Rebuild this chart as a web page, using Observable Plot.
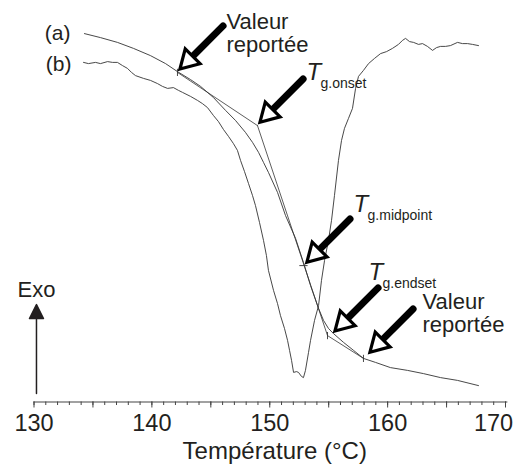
<!DOCTYPE html>
<html><head><meta charset="utf-8">
<script src="https://cdn.jsdelivr.net/npm/d3@7"></script>
<script src="https://cdn.jsdelivr.net/npm/@observablehq/plot@0.6"></script>
<style>body{margin:0;background:#fff}</style>
</head><body><div id="chart"></div>
<script>
// Temperature (°C) and heat flow (arbitrary units, exo up)
const curveA_T = [134.28,135.64,137.08,138.44,139.88,141.16,142.17,143.28,144.13,145.23,146.25,147.09,147.94,148.54,149.05,149.47,149.89,150.66,151.34,152.19,152.86,153.46,154.14,154.56,154.98,155.41,156.26,157.11,157.95,158.97,160.24,161.69,163.04,164.49,165.93,167.71];
const curveA_H = [92.1,91.1,89.9,88.4,86.6,84.6,82.6,80.6,78.9,76.1,72.9,70.4,67.4,64.9,62.4,59.9,57.4,52.4,46.6,40.9,34.9,29.1,23.4,20.4,18.4,17.1,14.9,12.9,10.9,9.9,8.6,7.9,7.1,6.1,5.4,4.1];

const curveB_T = [134.20,134.62,135.22,135.64,136.24,136.66,137.08,137.51,137.93,138.27,138.61,139.29,139.88,140.48,140.90,141.33,141.83,142.26,142.60,143.28,143.87,144.29,144.72,145.23,145.65,146.08,146.50,146.92,147.26,147.52,147.86,148.20,148.54,148.79,149.13,149.47,149.72,149.89,150.32,150.66,150.91,151.25,151.51,151.68,151.85,152.02,152.27,152.44,152.69,152.86,153.03,153.29,153.46,153.80,154.14,154.39,154.65,154.98,155.24,155.49,155.83,156.09,156.34,156.68,157.02,157.28,157.53,157.95,158.38,158.89,159.40,159.91,160.41,160.92,161.26,161.52,161.86,162.20,162.62,162.96,163.38,163.81,164.15,164.49,164.91,165.33,165.93,166.35,166.78,167.20,167.71];
const curveB_H = [84.9,84.6,84.9,84.6,85.1,84.9,84.9,84.1,83.4,82.4,81.6,80.9,80.4,79.6,78.9,78.4,78.6,77.9,77.4,76.4,75.4,74.6,73.6,71.6,70.1,68.1,66.4,64.6,62.9,60.4,57.6,54.6,51.6,49.1,44.9,40.4,36.6,32.9,27.9,24.6,21.6,18.4,15.4,12.9,10.4,7.4,7.6,7.4,6.4,6.1,7.9,12.4,15.4,20.4,24.1,30.4,35.4,40.4,45.4,51.6,60.4,65.4,68.4,70.9,73.4,78.4,81.4,82.9,84.6,85.9,87.1,87.6,88.4,89.4,90.4,90.9,90.1,89.9,89.4,89.6,88.9,87.9,88.6,88.9,88.9,89.1,89.9,89.6,89.6,89.4,89.1];

// Tangent construction on curve (a): reported value, onset, endset, reported value
const constrT = [142.17, 148.96, 154.90, 157.95];
const constrH = [82.4, 69.1, 16.6, 10.9];
// Midpoint
const midT = 152.86, midH = 34.1;

// Arrow tips (pointing at characteristic points)
const arrowT = [142.26, 149.05, 153.03, 155.41, 158.38];
const arrowH = [82.9, 69.6, 34.6, 17.4, 12.1];

// Labels
const abText = ["(a)", "(b)"], abT = [133.10, 133.18], abH = [92.1, 84.4];
const valeurText = "Valeur\nreportée", valeurT = [146.33, 162.96], valeurH = [87.4, 17.4];
const tgSub = ["g.onset", "g.midpoint", "g.endset"], tgT = [153.12, 157.11, 158.38], tgH = [80.4, 47.4, 30.4];
const exoT = 130.21, exoH0 = 2.1, exoLabelT = 128.60, exoLabelH = 27.9;

const majorTicks = d3.range(130, 171, 5);
const minorTicks = d3.range(130, 171, 1);
const tickLabels = [130, 140, 150, 160];
const lastTickLabel = [170];

const curveA = curveA_T.map((T, i) => ({T, H: curveA_H[i]}));
const curveB = curveB_T.map((T, i) => ({T, H: curveB_H[i]}));
const constr = constrT.map((T, i) => ({T, H: constrH[i]}));
const arrows = arrowT.map((T, i) => ({T, H: arrowH[i]}));
const abLab = abText.map((t, i) => ({t, T: abT[i], H: abH[i]}));
const valLab = valeurT.map((T, i) => ({T, H: valeurH[i]}));
const tgLab = tgSub.map((s, i) => ({s, T: tgT[i], H: tgH[i]}));
const vticks = [0, 2, 3].map(i => constr[i]);

const shaftShape = {draw(ctx, l) { ctx.moveTo(0, 0); ctx.lineTo(0, -l + 18); }};
const headShape = {draw(ctx, l) { ctx.moveTo(0, -l + 2); ctx.lineTo(-10.5, -l + 20); ctx.lineTo(10.5, -l + 20); ctx.closePath(); }};
const exoShape = {draw(ctx, l) { ctx.moveTo(0, 0); ctx.lineTo(0, -l + 12); ctx.moveTo(0, -l); ctx.lineTo(-7, -l + 14); ctx.lineTo(7, -l + 14); ctx.closePath(); }};

const ink = "#231f20";
const chart = Plot.plot({
  width: 516, height: 469,
  marginLeft: 33.5, marginRight: 11, marginTop: 1.5, marginBottom: 67.5,
  style: {fontFamily: "'Liberation Sans', Arial, sans-serif", background: "white", color: ink},
  x: {domain: [130, 170], label: null},
  y: {domain: [0, 100], axis: null},
  marks: [
    Plot.ruleY([0], {x1: 130, x2: 170.2, stroke: "#444", strokeWidth: 1.1}),
    Plot.axisX(minorTicks, {tickSize: 3.5, tickFormat: () => "", label: null, stroke: "#444"}),
    Plot.axisX(majorTicks, {tickSize: 6, tickFormat: () => "", label: null, stroke: "#444"}),
    Plot.text(tickLabels, {x: d => d, frameAnchor: "bottom", lineAnchor: "top", dy: 12.5, fontSize: 23.5, fill: ink}),
    Plot.text(lastTickLabel, {x: d => d, frameAnchor: "bottom", lineAnchor: "top", dy: 12.5, dx: -12, fontSize: 23.5, fill: ink}),
    Plot.line(constr.slice(0, 2), {x: "T", y: "H", stroke: "#333", strokeWidth: 0.8}),
    Plot.line(constr.slice(1, 3), {x: "T", y: "H", stroke: "#333", strokeWidth: 0.8}),
    Plot.line(constr.slice(2, 4), {x: "T", y: "H", stroke: "#333", strokeWidth: 0.8}),
    Plot.line(curveA, {x: "T", y: "H", stroke: "#333", strokeWidth: 0.9}),
    Plot.line(curveB, {x: "T", y: "H", stroke: "#333", strokeWidth: 0.9}),
    Plot.link(vticks, {x1: "T", x2: "T", y1: d => d.H - 0.9, y2: d => d.H + 0.9, stroke: "#333", strokeWidth: 0.9}),
    Plot.link([{T: midT, H: midH}], {x1: d => d.T - 0.35, x2: d => d.T + 0.35, y1: "H", y2: "H", stroke: "#333", strokeWidth: 0.9}),
    Plot.vector(arrows, {x: "T", y: "H", length: 63, rotate: 225, anchor: "end", shape: shaftShape, stroke: "black", strokeWidth: 7, strokeLinecap: "round"}),
    Plot.vector(arrows, {x: "T", y: "H", length: 63, rotate: 225, anchor: "end", shape: headShape, fill: "white", stroke: "black", strokeWidth: 3.2, strokeLinejoin: "miter"}),
    Plot.vector([{T: exoT, H: exoH0}], {x: "T", y: "H", length: 89, rotate: 0, anchor: "start", shape: exoShape, fill: ink, stroke: ink, strokeWidth: 1.5}),
    Plot.text(abLab, {x: "T", y: "H", text: "t", textAnchor: "end", fontSize: 21, fill: ink}),
    Plot.text(valLab, {x: "T", y: "H", text: () => valeurText, textAnchor: "start", lineAnchor: "bottom", lineHeight: 1.05, fontSize: 22, fill: ink}),
    Plot.text(tgLab, {x: "T", y: "H", text: () => "T", textAnchor: "start", lineAnchor: "bottom", fontSize: 24, fontStyle: "italic", fill: ink}),
    Plot.text(tgLab, {x: "T", y: "H", text: "s", dx: 14, dy: 8, textAnchor: "start", lineAnchor: "bottom", fontSize: 14, fill: ink}),
    Plot.text([{T: exoLabelT, H: exoLabelH}], {x: "T", y: "H", text: () => "Exo", textAnchor: "start", fontSize: 22, fill: ink}),
    Plot.text(["Température (°C)"], {frameAnchor: "bottom", dy: 57, dx: 5, lineAnchor: "bottom", fontSize: 24, fill: ink})
  ]
});
document.getElementById("chart").appendChild(chart);
</script>
</body></html>
